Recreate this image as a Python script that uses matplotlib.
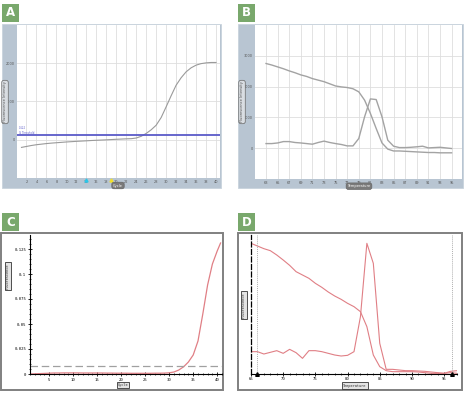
import matplotlib
matplotlib.use("Agg")
import matplotlib.pyplot as plt
from matplotlib.patches import Rectangle
from matplotlib.ticker import MultipleLocator

W, H = 468, 395

# A: amplification curve (cycle vs intensity)
a_cycles = list(range(1, 41))
a_signal = [-200, -175, -150, -130, -115, -100, -88, -78, -68, -58,
            -50, -42, -35, -28, -20, -14, -8, -2, 5, 12,
            18, 24, 28, 45, 90, 165, 260, 380, 580, 860,
            1150, 1425, 1620, 1775, 1880, 1950, 1990, 2010, 2020, 2020]
a_threshold = 122
a_xticks = list(range(2, 41, 2))
a_yticks = [0, 1000, 2000]
a_marks = [14, 19]

# B: melt curve + derivative
b_temp = list(range(63, 96))
b_melt = [2750, 2700, 2640, 2580, 2510, 2450, 2380, 2330, 2260, 2210,
          2160, 2090, 2020, 1990, 1970, 1930, 1830, 1560, 1130, 640,
          170, -30, -90, -90, -100, -110, -120, -130, -140, -140,
          -150, -150, -150]
b_deriv = [150, 150, 170, 215, 215, 185, 170, 150, 130, 185,
           230, 185, 150, 120, 75, 75, 315, 1020, 1600, 1580,
           1020, 260, 65, 20, 20, 30, 45, 65, 10, 20,
           30, 10, -10]
b_xticks = list(range(63, 96, 2))
b_yticks = [0, 1000, 2000, 3000]

# C: amplification curve, second instrument
c_cycles = [1, 2, 3, 4, 5, 6, 7, 8, 9, 10, 11, 12, 13, 14, 15, 16, 17, 18, 19, 20,
            21, 22, 23, 24, 25, 26, 27, 28, 29, 30, 31, 32, 33, 34, 35, 36, 37, 38,
            39, 40, 40.7]
c_signal = [0, 0.0002, 0.0004, 0.0006, 0.0008, 0.001, 0.001, 0.0011, 0.0011, 0.0011,
            0.0011, 0.001, 0.001, 0.001, 0.001, 0.001, 0.0009, 0.0009, 0.0008, 0.0008,
            0.0008, 0.0007, 0.0007, 0.0007, 0.0007, 0.0007, 0.0008, 0.0008, 0.0009, 0.0012,
            0.002, 0.004, 0.0072, 0.012, 0.019, 0.033, 0.060, 0.089, 0.110, 0.123, 0.131]
c_threshold = 0.008
c_yticks = [0, 0.025, 0.05, 0.075, 0.1, 0.125]
c_ylabels = ["0", "0.025", "0.05", "0.075", "0.1", "0.125"]

# D: melt curve + derivative, second instrument
d_temp = list(range(65, 98))
d_melt = [392, 384, 376, 370, 357, 342, 326, 307, 297, 287,
          272, 260, 246, 234, 224, 212, 202, 187, 142, 57,
          22, 10, 7, 7, 7, 7, 6, 4, 2, 2,
          2, 4, 2]
d_deriv = [67, 67, 60, 65, 70, 62, 74, 64, 47, 70,
           70, 67, 62, 57, 54, 56, 67, 172, 392, 332,
           92, 14, 14, 12, 10, 10, 9, 8, 6, 4,
           2, 8, 10]
d_xticks = [65, 70, 75, 80, 85, 90, 95]
d_bounds = [66, 96.2]

GREEN = "#79a86c"
STRIP = "#b8c5d2"
GRID = "#dedede"
PINK = "#e07f85"


def rect(x0, y0, x1, y1):
    return [x0 / W, 1 - y1 / H, (x1 - x0) / W, (y1 - y0) / H]


def fx(x):
    return x / W


def fy(y):
    return 1 - y / H


fig = plt.figure(figsize=(W / 100, H / 100), dpi=100)


def panel_letter(x0, y0, letter):
    fig.patches.append(Rectangle((fx(x0), fy(y0 + 18)), 17 / W, 18 / H,
                                 transform=fig.transFigure, fc=GREEN, ec="none", zorder=-5))
    fig.text(fx(x0 + 8.5), fy(y0 + 9), letter, color="white", fontsize=8.5,
             fontweight="bold", ha="center", va="center")


def strip_frame(x0, y0, x1, y1):
    fig.patches.append(Rectangle((fx(x0), fy(y1)), (x1 - x0) / W, (y1 - y0) / H,
                                 transform=fig.transFigure, fc=STRIP, ec="#c9d3dd", lw=0.6,
                                 zorder=-5))


def box_frame(x0, y0, x1, y1):
    fig.patches.append(Rectangle((fx(x0), fy(y1)), (x1 - x0) / W, (y1 - y0) / H,
                                 transform=fig.transFigure, fc="white", ec="#808080", lw=1.4,
                                 zorder=-5))


def pill(x, y, s, rot=0, dark=False):
    if dark:
        bb = dict(boxstyle="round,pad=0.35,rounding_size=0.6", fc="#7a7a7a", ec="#666666", lw=0.5)
        col = "white"
    else:
        bb = dict(boxstyle="round,pad=0.35,rounding_size=0.6", fc="#d9dde2", ec="#666666", lw=0.5)
        col = "#555555"
    fig.text(fx(x), fy(y), s, rotation=rot, ha="center", va="center", fontsize=2.6,
             color=col, bbox=bb, zorder=5)


def square_box(x, y, s, rot=0):
    fig.text(fx(x), fy(y), s, rotation=rot, ha="center", va="center", fontsize=2.6,
             color="#333333", family="DejaVu Sans Mono", zorder=5,
             bbox=dict(boxstyle="square,pad=0.3", fc="#e4e4e4", ec="#333333", lw=0.6))


# ---------- A ----------
panel_letter(2, 4, "A")
strip_frame(2, 24, 221, 188)
ax = fig.add_axes(rect(17, 25, 220, 178))
ax.plot(a_cycles, a_signal, color="#9a9a9a", lw=0.8)
ax.axhline(a_threshold, color="#5a5ac8", lw=1.3)
ax.text(0.4, a_threshold + 25, "0.122\nCt_Threshold", color="#5a5ac8", fontsize=1.8,
        va="bottom", linespacing=1.1)
ax.set_xlim(0.1, 40.8)
ax.set_ylim(-1000, 3000)
ax.set_xticks(a_xticks)
ax.set_yticks(a_yticks)
ax.grid(True, color=GRID, lw=0.6)
ax.tick_params(length=0, labelsize=2.5, colors="#555555", pad=1.5)
for s in ax.spines.values():
    s.set_visible(False)
for c, col in zip(a_marks, ["#2cc6e8", "#f2e02a"]):
    ax.plot([c], [-0.012], marker="^", ms=2.2, color=col, transform=ax.get_xaxis_transform(),
            clip_on=False)
pill(5, 102, "Fluorescence Intensity", rot=90)
pill(118, 185.5, "Cycle", dark=True)

# ---------- B ----------
panel_letter(238, 4, "B")
strip_frame(238, 24, 463, 188)
ax = fig.add_axes(rect(255, 25, 462, 179))
ax.plot(b_temp, b_melt, color="#a3a3a3", lw=1.0)
ax.plot(b_temp, b_deriv, color="#a3a3a3", lw=1.0)
ax.set_xlim(61.1, 96.8)
ax.set_ylim(-1000, 4000)
ax.set_xticks(b_xticks)
ax.set_yticks(b_yticks)
ax.grid(True, color=GRID, lw=0.6)
ax.tick_params(length=0, labelsize=2.5, colors="#555555", pad=1.5)
for s in ax.spines.values():
    s.set_visible(False)
pill(242, 102, "Fluorescence Intensity", rot=90)
pill(359, 186.2, "Temperature", dark=True)

# ---------- C ----------
panel_letter(2, 213, "C")
box_frame(1, 233, 223, 390)
ax = fig.add_axes(rect(30, 235, 222, 374))
ax.plot(c_cycles, c_signal, color=PINK, lw=0.9)
ax.axhline(c_threshold, color="#a0a0a0", lw=0.9, ls=(0, (6, 3)))
ax.set_xlim(1, 41)
ax.set_ylim(0, 0.139)
ax.set_yticks(c_yticks)
ax.set_yticklabels(c_ylabels)
ax.xaxis.set_major_locator(MultipleLocator(5))
ax.xaxis.set_minor_locator(MultipleLocator(1))
ax.yaxis.set_minor_locator(MultipleLocator(0.005))
ax.tick_params(which="major", direction="inout", length=3, width=0.6, labelsize=2.8, pad=1.2)
ax.tick_params(which="minor", direction="inout", length=1.6, width=0.5)
for lab in ax.get_xticklabels() + ax.get_yticklabels():
    lab.set_family("DejaVu Sans Mono")
ax.spines["top"].set_visible(False)
ax.spines["right"].set_visible(False)
ax.spines["left"].set_linewidth(0.8)
ax.spines["bottom"].set_linewidth(0.8)
ax.patch.set_alpha(0)
square_box(8, 276, "Fluorescence", rot=90)
square_box(123, 385, "Cycle")

# ---------- D ----------
panel_letter(238, 213, "D")
box_frame(238, 233, 462, 390)
ax = fig.add_axes(rect(251, 235, 457, 374))
ax.plot(d_temp, d_melt, color=PINK, lw=0.8)
ax.plot(d_temp, d_deriv, color=PINK, lw=0.8)
for b in d_bounds:
    ax.axvline(b, color="#b0b0b0", lw=0.7, ls=(0, (1, 1)))
    ax.plot([b], [0], marker="^", ms=2.6, color="black", clip_on=False)
ax.set_xlim(65, 97)
ax.set_ylim(0, 417)
ax.set_xticks(d_xticks)
ax.xaxis.set_minor_locator(MultipleLocator(1))
ax.set_yticks([])
ax.tick_params(which="major", direction="inout", length=2.5, width=0.6, labelsize=2.8, pad=1.2)
ax.tick_params(which="minor", direction="inout", length=1.4, width=0.5)
for lab in ax.get_xticklabels():
    lab.set_family("DejaVu Sans Mono")
ax.spines["top"].set_visible(False)
ax.spines["right"].set_visible(False)
ax.spines["left"].set_linestyle((0, (4, 2)))
ax.spines["left"].set_linewidth(0.9)
ax.spines["bottom"].set_linewidth(0.8)
ax.patch.set_alpha(0)
square_box(244, 305, "Fluorescence", rot=90)
square_box(355, 385.5, "Temperature")

fig.savefig("out.png", dpi=100)
